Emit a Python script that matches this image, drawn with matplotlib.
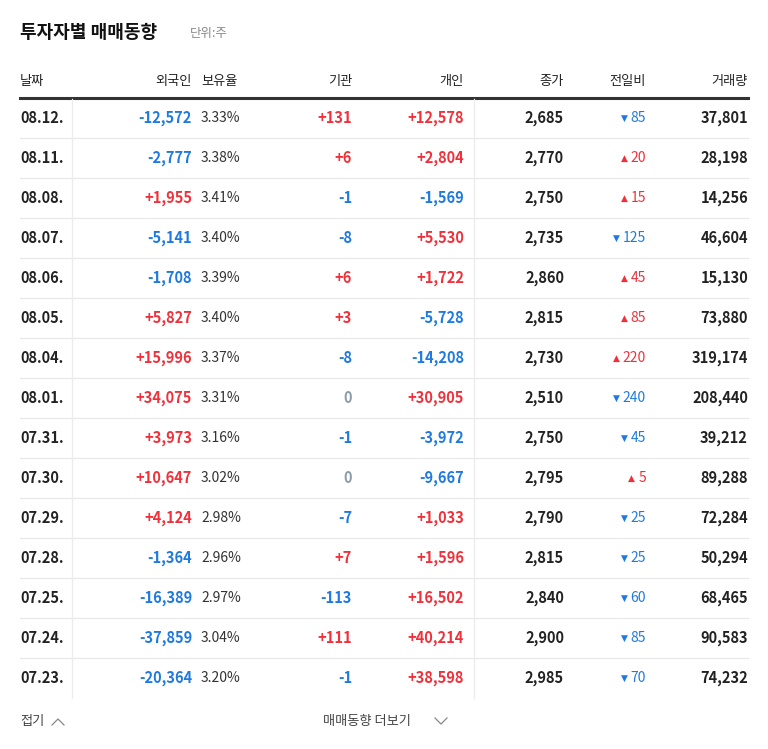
import matplotlib
matplotlib.use("Agg")
import matplotlib.pyplot as plt
from matplotlib import font_manager as fm

dates = ["08.12.","08.11.","08.08.","08.07.","08.06.","08.05.","08.04.","08.01.","07.31.","07.30.","07.29.","07.28.","07.25.","07.24.","07.23."]
foreign = [-12572,-2777,1955,-5141,-1708,5827,15996,34075,3973,10647,4124,-1364,-16389,-37859,-20364]
holding = [3.33,3.38,3.41,3.40,3.39,3.40,3.37,3.31,3.16,3.02,2.98,2.96,2.97,3.04,3.20]
inst = [131,6,-1,-8,6,3,-8,0,-1,0,-7,7,-113,111,-1]
indiv = [12578,2804,-1569,5530,1722,-5728,-14208,30905,-3972,-9667,1033,1596,16502,40214,38598]
close = [2685,2770,2750,2735,2860,2815,2730,2510,2750,2795,2790,2815,2840,2900,2985]
change = [-85,20,15,-125,45,85,220,-240,-45,5,-25,-25,-60,-85,-70]
volume = [37801,28198,14256,46604,15130,73880,319174,208440,39212,89288,72284,50294,68465,90583,74232]
headers = ["날짜","외국인","보유율","기관","개인","종가","전일비","거래량"]

# locate a Korean-capable font
FONT = "DejaVu Sans"
names = sorted({f.name for f in fm.fontManager.ttflist})
for cand in ["Noto Sans CJK KR", "Noto Sans CJK JP", "Noto Sans CJK SC"]:
    if cand in names:
        FONT = cand
        break
else:
    for n_ in names:
        if "CJK" in n_:
            FONT = n_
            break
if FONT == "DejaVu Sans":
    for f in fm.fontManager.ttflist:
        if "CJK" in f.fname or "cjk" in f.fname.lower():
            try:
                fm.fontManager.addfont(f.fname)
            except Exception:
                pass
            FONT = f.name
            break
plt.rcParams["font.family"] = [FONT, "DejaVu Sans"]

RED, BLUE, GRAY0, DARK = "#f0313b", "#1f7ae0", "#8a9aab", "#222222"

fig = plt.figure(figsize=(7.68, 7.49), dpi=100)
ax = fig.add_axes([0, 0, 1, 1])
ax.set_xlim(0, 768); ax.set_ylim(749, 0); ax.axis("off")

def col(v):
    return RED if v > 0 else (BLUE if v < 0 else GRAY0)

def sgn(v):
    return f"+{v:,}" if v > 0 else f"{v:,}"

ax.text(20, 32, "투자자별 매매동향", fontsize=13, fontweight="bold", color="#111", va="center")
ax.text(190, 33, "단위:주", fontsize=9, color="#888", va="center")

hx = [(20,"left"),(192,"right"),(201,"left"),(352,"right"),(464,"right"),(564,"right"),(646,"right"),(748,"right")]
for (x, ha), h in zip(hx, headers):
    ax.text(x, 81, h, fontsize=9.5, color=DARK, ha=ha, va="center")
ax.plot([20, 748], [98, 98], color="#333", lw=2.2)

top = 98
rh = 40
n = len(dates)
for i in range(n):
    y = top + rh * i + rh / 2
    if i < n - 1:
        ax.plot([20, 748], [top + rh * (i + 1)] * 2, color="#e8e8e8", lw=0.9)
    kw = dict(fontsize=10.5, va="center", fontweight="bold")
    ax.text(20, y, dates[i], ha="left", color=DARK, **kw)
    ax.text(192, y, sgn(foreign[i]), ha="right", color=col(foreign[i]), **kw)
    ax.text(201, y, f"{holding[i]:.2f}%", ha="left", color="#333", fontsize=10, va="center")
    ax.text(352, y, sgn(inst[i]), ha="right", color=col(inst[i]), **kw)
    ax.text(464, y, sgn(indiv[i]), ha="right", color=col(indiv[i]), **kw)
    ax.text(564, y, f"{close[i]:,}", ha="right", color=DARK, **kw)
    c = change[i]
    mark = "▲" if c > 0 else "▼"
    ax.text(646, y, f"{abs(c)}", ha="right", color=col(c), fontsize=10, va="center")
    w = len(str(abs(c))) * 7.8
    ax.text(646 - w - 3, y + 0.5, mark, ha="right", color=col(c), family="DejaVu Sans", fontsize=6.5, va="center")
    ax.text(748, y, f"{volume[i]:,}", ha="right", color=DARK, **kw)

for x in (72, 474):
    ax.plot([x, x], [99, top + rh * n], color="#ececec", lw=0.9)

ax.text(20, 721, "접기", fontsize=9.5, color="#444", va="center")
ax.plot([52, 58, 64], [725, 719, 725], color="#888", lw=0.9)
ax.text(323, 721, "매매동향 더보기", fontsize=9.5, color="#444", va="center")
ax.plot([435, 441, 447], [718, 724, 718], color="#888", lw=0.9)

fig.savefig("out.png", dpi=100, facecolor="white")
